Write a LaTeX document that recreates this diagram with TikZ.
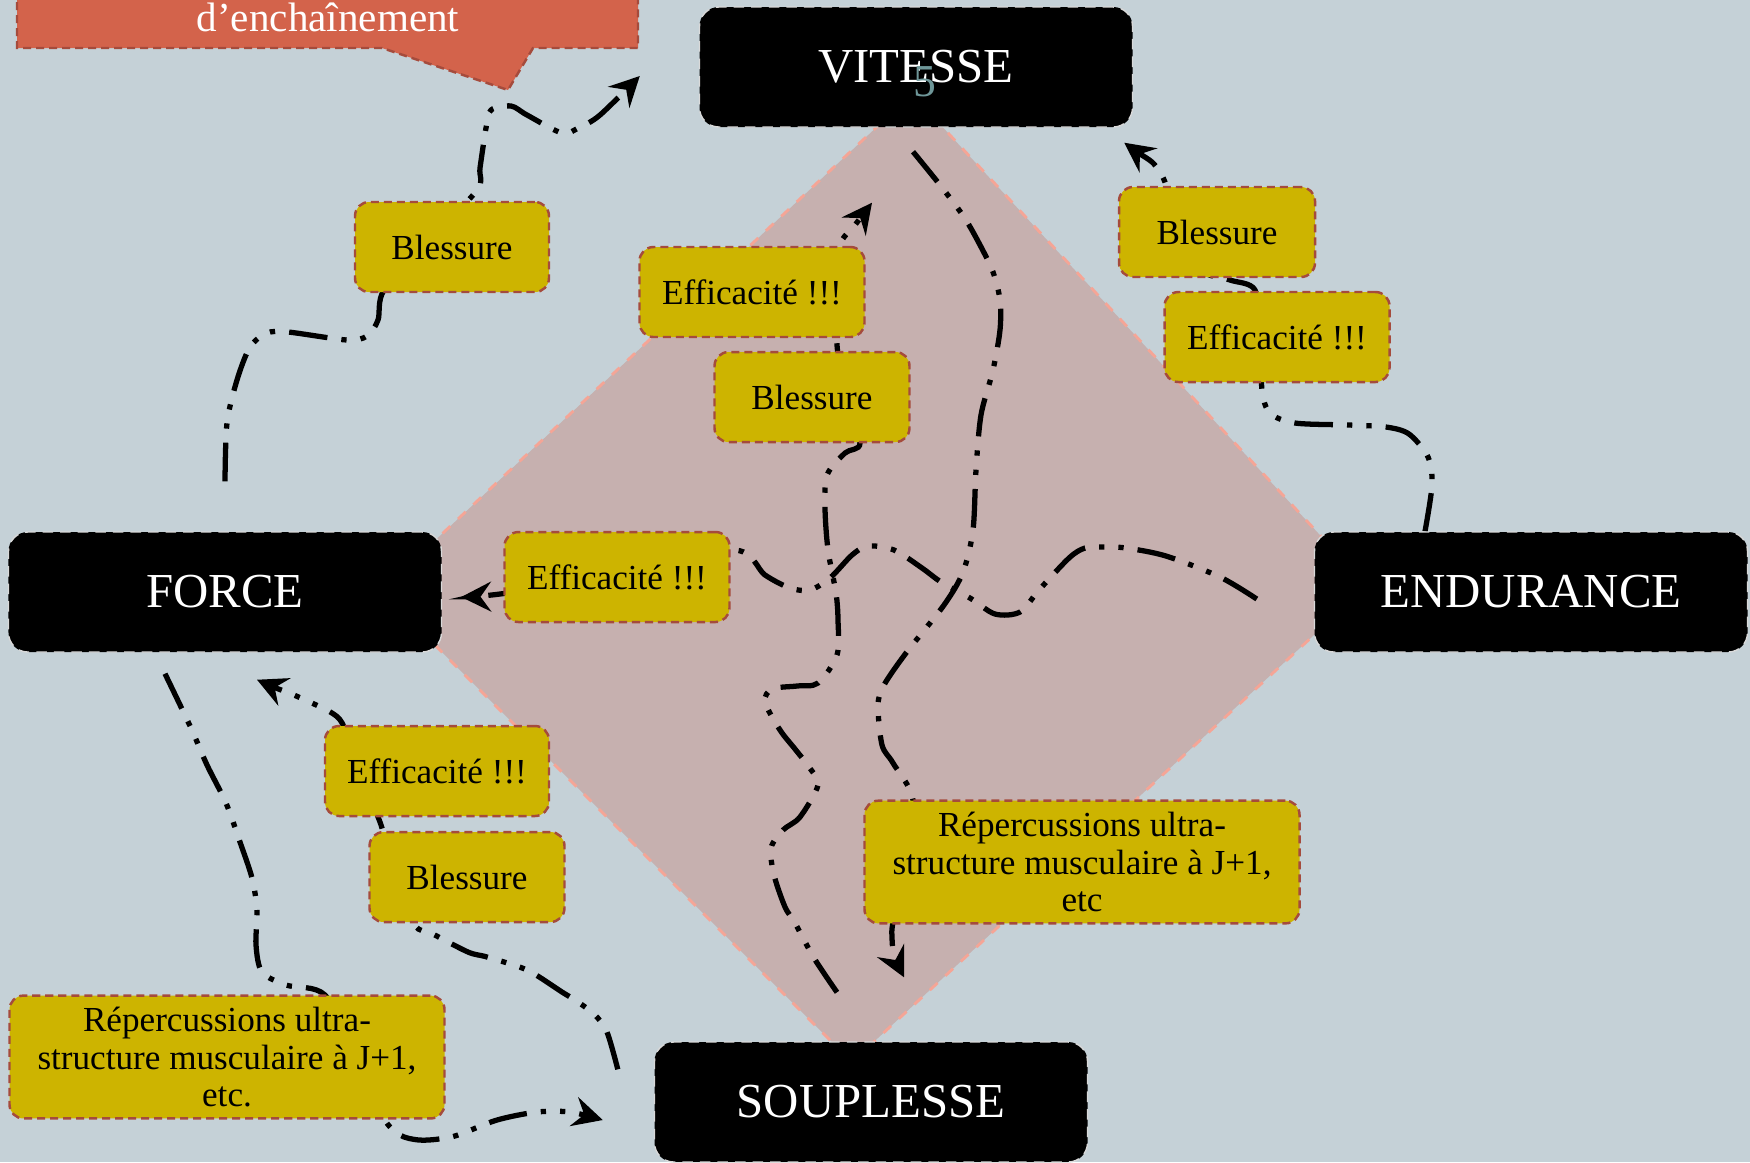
\documentclass[tikz,border=0pt]{standalone}
\usepackage{fontspec}
\setmainfont{Liberation Serif}
\usetikzlibrary{arrows.meta}

\definecolor{fond}{RGB}{197,209,215}
\definecolor{losange}{RGB}{198,176,175}
\definecolor{saumon}{RGB}{245,165,150}
\definecolor{jaune}{RGB}{205,180,0}
\definecolor{brique}{RGB}{165,75,60}
\definecolor{rouge}{RGB}{211,99,75}
\definecolor{numgris}{RGB}{110,150,152}

\pgfdeclarelayer{fondplan}
\pgfdeclarelayer{traits}
\pgfsetlayers{fondplan,traits,main}

\tikzset{
  qualite/.style={rectangle, rounded corners=5.5pt, fill=black, draw=white!70!gray, densely dashed, line width=0.4pt,
    text=white, minimum width=4.33cm, minimum height=1.2cm, font=\fontsize{13.9}{16}\selectfont},
  bulle/.style={rectangle, rounded corners=4pt, fill=jaune, draw=brique, dash pattern=on 2.3pt off 1.4pt, line width=0.7pt,
    align=center, minimum height=0.9cm, font=\fontsize{10}{10.6}\selectfont},
  flux/.style={line width=1.5pt, dash pattern=on 11pt off 4pt on 1.5pt off 4pt on 1.5pt off 4pt,
    -{Stealth[length=8.5pt,width=8.5pt,inset=3pt]}}
}

\begin{document}
\begin{tikzpicture}
  \useasboundingbox (0,0) rectangle (17.5,-11.62);
  \begin{pgfonlayer}{fondplan}
    \fill[fond] (0,0) rectangle (17.5,-11.62);
    \filldraw[fill=losange, draw=saumon, dashed, line width=0.8pt] (3.81,-5.91) -- (9.12,-0.94) -- (13.67,-5.86) -- (8.52,-10.62) -- cycle;
  \end{pgfonlayer}

  % bulle du titre
  \filldraw[fill=rouge, draw=brique, dash pattern=on 2.3pt off 1.4pt, line width=0.7pt]
    (0.17,0.5) -- (0.17,-0.48) -- (3.82,-0.48) -- (5.08,-0.90) -- (5.33,-0.48) -- (6.38,-0.48) -- (6.38,0.5);
  \node[text=white, font=\fontsize{11.7}{14}\selectfont, anchor=base] (titre) at (3.28,-0.31) {d’enchaînement};

  % qualités physiques
  \node[qualite] (vitesse) at (9.16,-0.67) {VITESSE};
  \node[qualite] (force) at (2.25,-5.92) {FORCE};
  \node[qualite] (endurance) at (15.31,-5.92) {ENDURANCE};
  \node[qualite] (souplesse) at (8.71,-11.02) {SOUPLESSE};
  \node[text=numgris, font=\fontsize{13}{15}\selectfont] (numero) at (9.25,-0.82) {5};

  % effets
  \node[bulle, minimum width=1.94cm] (bl1) at (4.52,-2.47) {Blessure};
  \node[bulle, minimum width=2.25cm] (ef1) at (7.52,-2.92) {Efficacité !!!};
  \node[bulle, minimum width=1.95cm] (bl2) at (8.12,-3.97) {Blessure};
  \node[bulle, minimum width=1.96cm] (bl3) at (12.17,-2.32) {Blessure};
  \node[bulle, minimum width=2.25cm] (ef2) at (12.77,-3.37) {Efficacité !!!};
  \node[bulle, minimum width=2.25cm] (ef3) at (6.17,-5.77) {Efficacité !!!};
  \node[bulle, minimum width=2.24cm] (ef4) at (4.37,-7.71) {Efficacité !!!};
  \node[bulle, minimum width=1.95cm] (bl4) at (4.67,-8.77) {Blessure};
  \node[bulle, minimum width=4.35cm, minimum height=1.2cm] (rep1) at (2.27,-10.57) {Répercussions ultra-\\structure musculaire à J+1,\\etc.};
  \node[bulle, minimum width=4.35cm, minimum height=1.2cm] (rep2) at (10.82,-8.62) {Répercussions ultra-\\structure musculaire à J+1,\\etc};

  \begin{pgfonlayer}{traits}
    % force -> vitesse
    \draw[flux] plot[smooth] coordinates{([yshift=5mm]force.north) (2.27,-4.23) (2.37,-3.80) (2.50,-3.47) (2.67,-3.33) (2.88,-3.32) (3.47,-3.40) (3.67,-3.36) (3.78,-3.20) (3.84,-2.90) (4.28,-2.42) (4.77,-1.90) (4.80,-1.68) (4.86,-1.28) (4.91,-1.10) (5.11,-1.06) (5.27,-1.15) (5.62,-1.33) (5.80,-1.27) (6.00,-1.15) ([xshift=-5.9mm,yshift=-0.9mm]vitesse.west)};
    % endurance -> vitesse
    \draw[flux] plot[smooth] coordinates{([xshift=-1.06cm]endurance.north) (14.32,-4.85) (14.28,-4.57) (14.09,-4.34) (13.86,-4.27) (13.49,-4.25) (12.95,-4.23) (12.70,-4.13) (12.62,-3.90) (12.60,-3.35) (12.55,-2.90) (12.30,-2.80) (12.00,-2.70) (11.75,-2.30) (11.66,-1.85) (11.54,-1.64) (11.37,-1.52) ([xshift=-0.9mm,yshift=-1.5mm]vitesse.south east)};
    % endurance -> force
    \draw[flux] plot[smooth] coordinates{([xshift=-5.7mm,yshift=-0.7mm]endurance.west) (12.20,-5.77) (11.66,-5.56) (11.26,-5.48) (11.04,-5.47) (10.85,-5.48) (10.69,-5.58) (10.39,-5.90) (10.20,-6.12) (9.95,-6.14) (9.70,-5.98) (9.41,-5.82) (9.22,-5.68) (8.94,-5.50) (8.68,-5.46) (8.52,-5.55) (8.30,-5.78) (8.10,-5.90) (7.90,-5.88) (7.65,-5.75) (7.33,-5.50) (ef3.center) (5.00,-5.94) ([xshift=1.9mm,yshift=-0.5mm]force.east)};
    % vitesse -> souplesse
    \draw[flux] plot[smooth] coordinates{([xshift=-0.3mm,yshift=-2.4mm]vitesse.south) (9.40,-1.85) (9.64,-2.17) (9.80,-2.45) (9.93,-2.72) (10.00,-3.00) (10.00,-3.30) (9.93,-3.70) (9.81,-4.15) (9.76,-4.70) (9.73,-5.30) (9.63,-5.72) (9.44,-6.05) (9.06,-6.53) (8.84,-6.85) (8.78,-7.05) (8.82,-7.45) (8.93,-7.63) (9.13,-8.00) (9.05,-8.60) (8.93,-9.22) (8.92,-9.37) (8.94,-9.55) ([xshift=3.3mm,yshift=6.4mm]souplesse.north)};
    % souplesse -> vitesse
    \draw[flux] plot[smooth] coordinates{([xshift=-3.4mm,yshift=4.9mm]souplesse.north) (8.14,-9.58) (7.95,-9.23) (7.85,-9.07) (7.74,-8.75) (7.71,-8.48) (7.83,-8.30) (8.00,-8.17) (8.18,-7.85) (8.09,-7.67) (7.95,-7.49) (7.80,-7.30) (7.65,-7.02) (7.72,-6.89) (7.97,-6.86) (8.18,-6.83) (8.37,-6.55) (8.38,-6.20) (8.36,-5.93) (8.28,-5.50) (8.25,-5.08) (8.27,-4.75) (8.45,-4.53) (8.60,-4.43) (8.45,-3.98) (8.37,-3.45) (8.37,-2.90) (8.40,-2.45) (8.55,-2.25) ([xshift=-4.4mm,yshift=-7.5mm]vitesse.south)};
    % force -> souplesse
    \draw[flux] plot[smooth] coordinates{([xshift=-6mm,yshift=-2.1mm]force.south) (1.91,-7.28) (2.07,-7.65) (2.26,-8.03) (2.40,-8.42) (2.52,-8.78) (2.57,-9.10) (2.56,-9.45) (2.62,-9.72) (2.86,-9.85) (3.25,-9.95) (3.55,-10.55) (3.83,-11.17) (4.00,-11.35) (4.19,-11.40) (4.39,-11.39) (4.58,-11.35) (4.97,-11.20) (5.37,-11.12) (5.70,-11.12) ([xshift=-5.1mm,yshift=-1.8mm]souplesse.west)};
    % souplesse -> force
    \draw[flux] plot[smooth] coordinates{([xshift=-3.6mm,yshift=-2.8mm]souplesse.north west) (6.07,-10.32) (5.95,-10.15) (5.78,-10.02) (5.62,-9.92) (5.27,-9.70) (4.87,-9.57) (4.68,-9.52) (4.31,-9.33) (4.15,-9.25) (3.95,-8.75) (3.80,-8.22) (3.55,-7.65) (3.44,-7.27) (3.32,-7.13) (2.94,-6.95) (2.76,-6.88) ([xshift=3.2mm,yshift=-2.7mm]force.south)};
  \end{pgfonlayer}
\end{tikzpicture}
\end{document}
